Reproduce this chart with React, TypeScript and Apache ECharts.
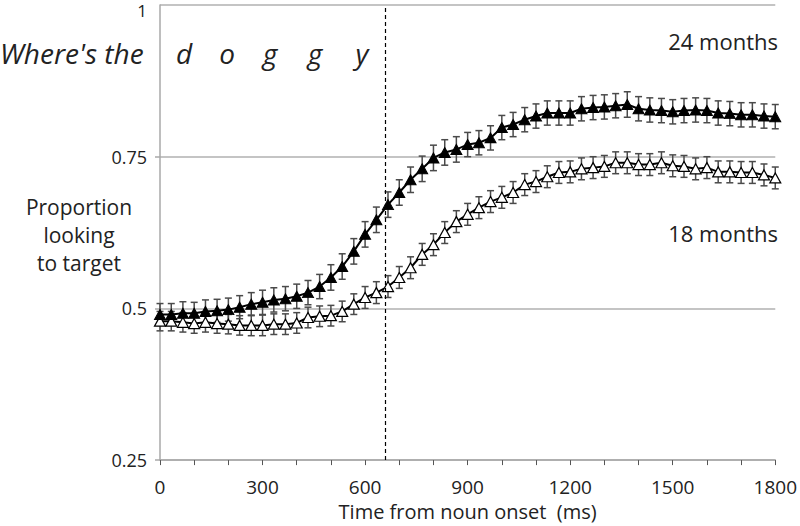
import React, { useEffect, useRef } from "react";
import * as echarts from "echarts";

const times = [0, 33, 67, 100, 133, 167, 200, 233, 267, 300, 333, 367, 400, 433, 467, 500, 533, 567, 600, 633, 667, 700, 733, 767, 800, 833, 867, 900, 933, 967, 1000, 1033, 1067, 1100, 1133, 1167, 1200, 1233, 1267, 1300, 1333, 1367, 1400, 1433, 1467, 1500, 1533, 1567, 1600, 1633, 1667, 1700, 1733, 1767, 1800];

const months24 = [0.490, 0.490, 0.492, 0.492, 0.495, 0.496, 0.498, 0.502, 0.507, 0.510, 0.514, 0.516, 0.520, 0.526, 0.536, 0.551, 0.569, 0.594, 0.622, 0.646, 0.671, 0.691, 0.712, 0.730, 0.748, 0.757, 0.762, 0.770, 0.773, 0.781, 0.798, 0.803, 0.811, 0.817, 0.822, 0.822, 0.822, 0.829, 0.831, 0.832, 0.834, 0.836, 0.829, 0.827, 0.826, 0.824, 0.826, 0.827, 0.826, 0.822, 0.821, 0.819, 0.819, 0.817, 0.816];

const months18 = [0.479, 0.479, 0.477, 0.475, 0.477, 0.475, 0.474, 0.472, 0.472, 0.472, 0.474, 0.474, 0.476, 0.485, 0.487, 0.488, 0.495, 0.507, 0.518, 0.526, 0.536, 0.551, 0.567, 0.589, 0.605, 0.625, 0.643, 0.655, 0.666, 0.676, 0.683, 0.691, 0.704, 0.709, 0.717, 0.724, 0.725, 0.730, 0.732, 0.734, 0.740, 0.740, 0.737, 0.737, 0.740, 0.735, 0.734, 0.730, 0.732, 0.725, 0.725, 0.724, 0.724, 0.720, 0.715];

const se24 = [0.018, 0.018, 0.019, 0.018, 0.019, 0.019, 0.019, 0.019, 0.019, 0.020, 0.020, 0.020, 0.020, 0.020, 0.020, 0.021, 0.021, 0.021, 0.021, 0.021, 0.021, 0.021, 0.021, 0.021, 0.021, 0.021, 0.021, 0.020, 0.020, 0.020, 0.020, 0.020, 0.020, 0.020, 0.020, 0.020, 0.020, 0.020, 0.020, 0.020, 0.020, 0.021, 0.020, 0.020, 0.020, 0.020, 0.020, 0.020, 0.020, 0.020, 0.020, 0.020, 0.020, 0.020, 0.020];

const se18 = [0.016, 0.016, 0.016, 0.016, 0.016, 0.016, 0.016, 0.016, 0.017, 0.017, 0.017, 0.017, 0.017, 0.017, 0.017, 0.017, 0.017, 0.017, 0.018, 0.018, 0.018, 0.018, 0.018, 0.018, 0.018, 0.018, 0.018, 0.018, 0.018, 0.018, 0.018, 0.018, 0.018, 0.018, 0.018, 0.018, 0.018, 0.018, 0.018, 0.018, 0.018, 0.018, 0.018, 0.018, 0.018, 0.018, 0.018, 0.018, 0.018, 0.018, 0.018, 0.018, 0.018, 0.018, 0.018];

const yTicks = [0.25, 0.5, 0.75];
const yTopLabel = "1";
const nounOffsetMs = 660;

const FONT = "'Open Sans', 'DejaVu Sans', sans-serif";

function errData(vals: number[], se: number[]) {
  return times.map((t, i) => [t, vals[i] - se[i], vals[i] + se[i]]);
}

function errRender(params: any, api: any) {
  const x = api.value(0);
  const lo = api.coord([x, api.value(1)]);
  const hi = api.coord([x, api.value(2)]);
  const cap = 3.5;
  const style = { stroke: "#4a4a4a", lineWidth: 1.5 };
  return {
    type: "group",
    children: [
      { type: "line", shape: { x1: lo[0], y1: lo[1], x2: hi[0], y2: hi[1] }, style },
      { type: "line", shape: { x1: lo[0] - cap, y1: lo[1], x2: lo[0] + cap, y2: lo[1] }, style },
      { type: "line", shape: { x1: hi[0] - cap, y1: hi[1], x2: hi[0] + cap, y2: hi[1] }, style },
    ],
  };
}

export default function App() {
  const ref = useRef<HTMLDivElement>(null);
  useEffect(() => {
    if (!ref.current) return;
    const chart = echarts.init(ref.current, null, { renderer: "svg" });
    const letters = [
      { t: "d", x: 184 },
      { t: "o", x: 227 },
      { t: "g", x: 270 },
      { t: "g", x: 315 },
      { t: "y", x: 362 },
    ];
    chart.setOption({
      animation: false,
      backgroundColor: "#fff",
      grid: { left: 160, right: 22, top: 5, bottom: 65 },
      xAxis: {
        type: "value",
        min: 0,
        max: 1800,
        interval: 300,
        name: "Time from noun onset  (ms)",
        nameLocation: "middle",
        nameGap: 34,
        nameTextStyle: { fontFamily: FONT, fontSize: 20, color: "#222" },
        axisLine: { lineStyle: { color: "#a8a8a8", width: 1.5 } },
        axisTick: { show: true, length: 5, lineStyle: { color: "#555", width: 1 } },
        minorTick: { show: true, splitNumber: 3, length: 5, lineStyle: { color: "#555", width: 1 } },
        axisLabel: {
          fontFamily: FONT,
          fontSize: 19,
          color: "#222",
          margin: 17,
          formatter: (v: number) => String(v),
        },
        splitLine: { show: false },
      },
      yAxis: {
        type: "value",
        min: 0.25,
        max: 1,
        interval: 0.25,
        axisLine: { show: true, lineStyle: { color: "#a8a8a8", width: 1.5 } },
        axisTick: { show: true, length: 5, lineStyle: { color: "#a8a8a8", width: 1.5 } },
        axisLabel: {
          fontFamily: FONT,
          fontSize: 18,
          color: "#222",
          margin: 13,
          showMaxLabel: false,
          formatter: (v: number) => (yTicks.includes(v) ? String(v) : ""),
        },
        splitLine: { show: true, lineStyle: { color: "#b0b0b0", width: 1.5 } },
      },
      series: [
        {
          type: "custom",
          name: "err24",
          renderItem: errRender,
          data: errData(months24, se24),
          z: 2,
          silent: true,
        },
        {
          type: "custom",
          name: "err18",
          renderItem: errRender,
          data: errData(months18, se18),
          z: 2,
          silent: true,
        },
        {
          type: "line",
          name: "18 months",
          data: times.map((t, i) => [t, months18[i]]),
          symbol: "triangle",
          symbolSize: [11, 10],
          lineStyle: { color: "#000", width: 2 },
          itemStyle: { color: "#fff", borderColor: "#000", borderWidth: 1.2 },
          z: 3,
          markLine: {
            silent: true,
            symbol: "none",
            label: { show: false },
            lineStyle: { color: "#000", type: [4, 3], width: 1.2 },
            data: [{ xAxis: nounOffsetMs }],
          },
        },
        {
          type: "line",
          name: "24 months",
          data: times.map((t, i) => [t, months24[i]]),
          symbol: "triangle",
          symbolSize: [11, 10],
          lineStyle: { color: "#000", width: 2 },
          itemStyle: { color: "#000", borderColor: "#000", borderWidth: 1 },
          z: 4,
        },
      ],
      graphic: [
        {
          type: "text",
          x: 147,
          y: 2,
          style: { text: yTopLabel, fontFamily: FONT, fontSize: 17, fill: "#222", align: "right" },
        },
        {
          type: "text",
          x: 0,
          y: 39,
          style: { text: "Where's the", fontFamily: FONT, fontStyle: "italic", fontSize: 28, fill: "#222" },
        },
        ...letters.map((l) => ({
          type: "text",
          x: l.x,
          y: 39,
          style: { text: l.t, fontFamily: FONT, fontStyle: "italic", fontSize: 28, fill: "#222", align: "center" },
        })),
        {
          type: "text",
          x: 778,
          y: 30,
          style: { text: "24 months", fontFamily: FONT, fontSize: 22, fill: "#222", align: "right" },
        },
        {
          type: "text",
          x: 778,
          y: 222,
          style: { text: "18 months", fontFamily: FONT, fontSize: 22, fill: "#222", align: "right" },
        },
        {
          type: "text",
          x: 79,
          y: 193,
          style: {
            text: "Proportion\nlooking\nto target",
            fontFamily: FONT,
            fontSize: 21,
            lineHeight: 28,
            fill: "#222",
            align: "center",
          },
        },
      ],
    });
    return () => chart.dispose();
  }, []);
  return (
    <div
      ref={ref}
      style={{ position: "fixed", left: 0, top: 0, width: 800, height: 526 }}
    />
  );
}
